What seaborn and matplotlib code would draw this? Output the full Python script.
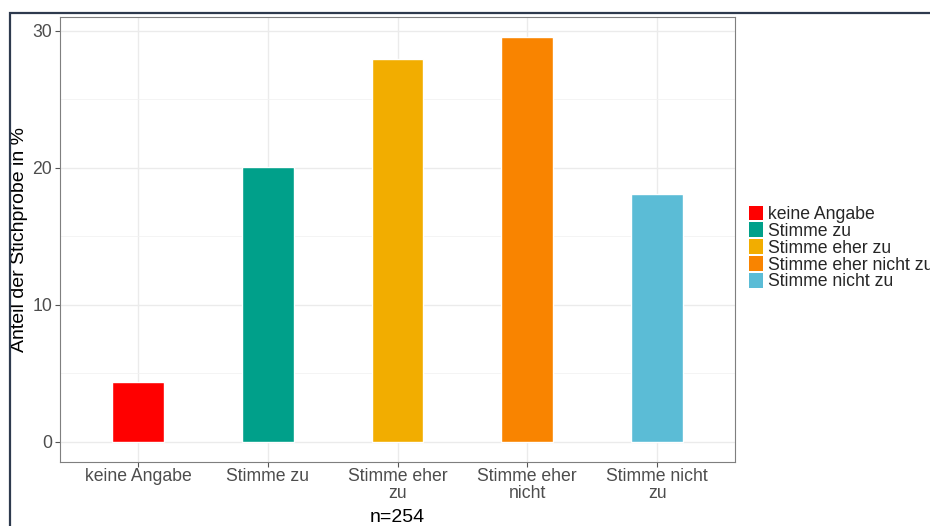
import matplotlib
matplotlib.use("Agg")
import matplotlib.pyplot as plt
import matplotlib.patches as mpatches
import seaborn as sns
import pandas as pd

# Data (n=254)
categories = ["keine Angabe", "Stimme zu", "Stimme eher zu", "Stimme eher nicht zu", "Stimme nicht zu"]
tick_labels = ["keine Angabe", "Stimme zu", "Stimme eher\nzu", "Stimme eher\nnicht", "Stimme nicht\nzu"]
percent = [4.33, 20.08, 27.95, 29.53, 18.11]
colors = ["#FF0000", "#00A08A", "#F2AD00", "#F98400", "#5BBCD6"]

df = pd.DataFrame({"Antwort": categories, "Anteil": percent})

sns.set_theme(style="white")
plt.rcParams["font.family"] = ["Liberation Sans", "DejaVu Sans"]

fig = plt.figure(figsize=(9.3, 5.26), dpi=100)
ax = fig.add_axes([60 / 930, 1 - 462 / 526, 675 / 930, 445 / 526])

sns.barplot(data=df, x="Antwort", y="Anteil", hue="Antwort", palette=colors,
            width=0.4, legend=False, saturation=1, ax=ax, zorder=3)

ax.set_xlim(-0.6, 4.6)
ax.set_ylim(-1.48, 31.0)
ax.set_yticks([0, 10, 20, 30])
ax.set_yticks([5, 15, 25], minor=True)
ax.set_xticks(range(5))
ax.set_xticklabels(tick_labels, linespacing=1.05)
ax.grid(True, which="major", color="#ebebeb", linewidth=1.0, zorder=0)
ax.grid(True, which="minor", axis="y", color="#f2f2f2", linewidth=0.6, zorder=0)
ax.set_axisbelow(True)
for s in ax.spines.values():
    s.set_color("#7f7f7f")
    s.set_linewidth(0.8)
ax.tick_params(axis="both", which="major", length=3.5, width=0.8, color="#555555",
               labelsize=12.7, labelcolor="#4d4d4d", pad=2, bottom=True, left=True)
ax.tick_params(axis="x", which="major", pad=0.5)
ax.tick_params(axis="both", which="minor", length=0)
ax.set_ylabel("Anteil der Stichprobe in %", fontsize=14, color="black", labelpad=3)
ax.set_xlabel("n=254", fontsize=14, color="black", labelpad=5)

handles = [mpatches.Patch(facecolor=c, edgecolor="none", label=l) for c, l in zip(colors, categories)]
fig.legend(handles=handles, loc="center left", bbox_to_anchor=(749 / 930, 1 - 248 / 526),
           frameon=False, fontsize=12.7, handlelength=0.8, handleheight=0.9,
           handletextpad=0.28, labelspacing=-0.03, borderpad=0, borderaxespad=0)

# outer dark frame (top and left visible)
fig.patches.append(mpatches.Rectangle((10 / 930, -0.2), 1.2, 1.2 - 13 / 526,
                                      transform=fig.transFigure, fill=False,
                                      edgecolor="#2e3a4e", linewidth=1.6, zorder=10))

fig.savefig("out.png", dpi=100)
